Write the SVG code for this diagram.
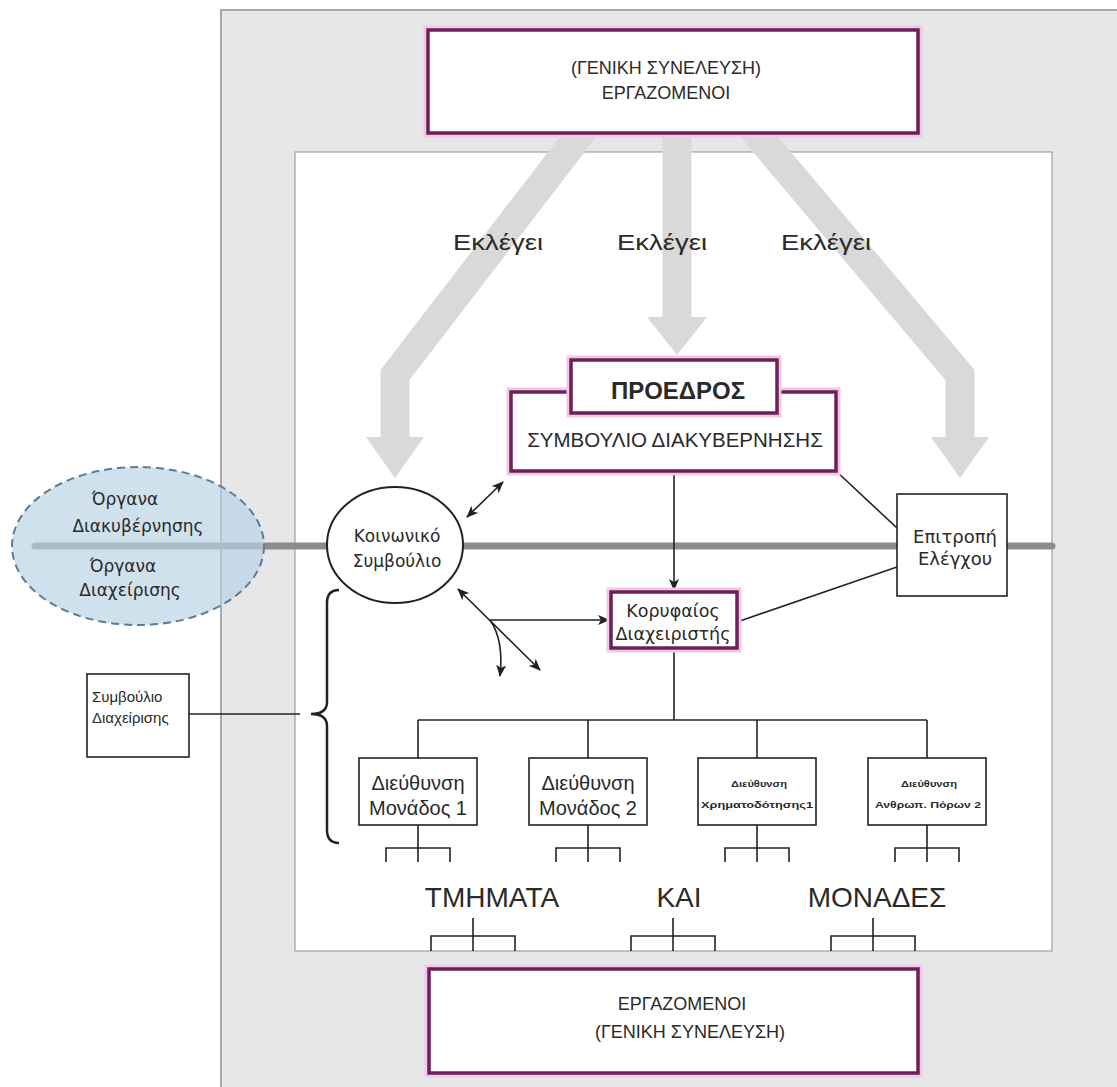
<svg xmlns="http://www.w3.org/2000/svg" width="1117" height="1087" viewBox="0 0 1117 1087">
<style>
.t{font-family:"Liberation Sans",Arial,sans-serif;fill:#2a2a2a;text-anchor:middle}
.g{font-family:"DejaVu Sans",Verdana,sans-serif;fill:#2a2a2a;text-anchor:middle}
.glow{fill:none;stroke:#f3c8e7;stroke-width:9}
.pur{fill:#fff;stroke:#6b2158;stroke-width:3.5}
.blk{fill:#fff;stroke:#222;stroke-width:1.6}
.ln{fill:none;stroke:#222;stroke-width:1.6}
.big{fill:none;stroke:#d9d9d9;stroke-width:29;stroke-linejoin:miter}
.head{fill:#d9d9d9}
</style>
<defs>
<marker id="ah" viewBox="0 0 12 10" refX="11" refY="5" markerWidth="12" markerHeight="10" markerUnits="userSpaceOnUse" orient="auto-start-reverse">
<path d="M0,0 L12,5 L0,10 L3,5 Z" fill="#222"/>
</marker>
</defs>
<rect width="1117" height="1087" fill="#fff"/>
<g id="panel">
<rect x="221" y="10" width="910" height="1090" fill="#e7e7e9" stroke="#a8a8a8" stroke-width="2"/>
<rect x="295" y="152" width="757" height="799" fill="#fff" stroke="#a0a0a0" stroke-width="1.2"/>
</g>
<g id="elect-arrows">
<polyline class="big" points="591,120 395,375 395,440"/>
<polygon class="head" points="366,437 424,437 395,478"/>
<polyline class="big" points="677,120 677,320"/>
<polygon class="head" points="647,317 707,317 677,355"/>
<polyline class="big" points="745,120 960,375 960,440"/>
<polygon class="head" points="931,437 989,437 960,478"/>
<text class="t" x="498" y="250" font-size="22" textLength="90" lengthAdjust="spacingAndGlyphs">Εκλέγει</text>
<text class="t" x="662" y="250" font-size="22" textLength="90" lengthAdjust="spacingAndGlyphs">Εκλέγει</text>
<text class="t" x="826" y="250" font-size="22" textLength="90" lengthAdjust="spacingAndGlyphs">Εκλέγει</text>
</g>
<g id="divider">
<line x1="35" y1="546" x2="1052" y2="546" stroke="#8c8c8c" stroke-width="7" stroke-linecap="round"/>
</g>
<g id="top-assembly">
<rect class="glow" x="428" y="30" width="490" height="103"/>
<rect class="pur" x="428" y="30" width="490" height="103" stroke-width="4"/>
<text class="t" x="666" y="74" font-size="18">(ΓΕΝΙΚΗ ΣΥΝΕΛΕΥΣΗ)</text>
<text class="t" x="666" y="99" font-size="18">ΕΡΓΑΖΟΜΕΝΟΙ</text>
</g>
<g id="bottom-assembly">
<rect class="glow" x="429" y="969" width="489" height="104"/>
<rect class="pur" x="429" y="969" width="489" height="104" stroke-width="4"/>
<text class="t" x="682" y="1010" font-size="18">ΕΡΓΑΖΟΜΕΝΟΙ</text>
<text class="t" x="690" y="1038" font-size="18">(ΓΕΝΙΚΗ ΣΥΝΕΛΕΥΣΗ)</text>
</g>
<g id="ellipse-legend">
<ellipse cx="138" cy="546" rx="126" ry="79" fill="#b8d3e4" fill-opacity="0.68" stroke="#5d7c96" stroke-width="2" stroke-dasharray="8,5"/>
<text class="g" x="125" y="505" font-size="17">Όργανα</text>
<text class="g" x="138" y="532" font-size="17">Διακυβέρνησης</text>
<text class="g" x="123" y="572" font-size="17">Όργανα</text>
<text class="g" x="130" y="596" font-size="17">Διαχείρισης</text>
</g>
<g id="connectors">
<line class="ln" x1="674" y1="471" x2="674" y2="590" marker-end="url(#ah)"/>
<line class="ln" x1="467" y1="517" x2="503" y2="482" marker-start="url(#ah)" marker-end="url(#ah)"/>
<line class="ln" x1="458" y1="589" x2="540" y2="670" marker-start="url(#ah)" marker-end="url(#ah)"/>
<line class="ln" x1="490" y1="620" x2="609" y2="620" marker-end="url(#ah)"/>
<path class="ln" d="M490,620 Q504,640 500,676" marker-end="url(#ah)"/>
<line class="ln" x1="836" y1="471" x2="897" y2="528"/>
<line class="ln" x1="737" y1="622" x2="897" y2="567"/>
<polyline class="ln" points="674,648 674,720"/>
<line class="ln" x1="418" y1="720" x2="927" y2="720"/>
<line class="ln" x1="418" y1="720" x2="418" y2="758"/>
<line class="ln" x1="588" y1="720" x2="588" y2="758"/>
<line class="ln" x1="757" y1="720" x2="757" y2="758"/>
<line class="ln" x1="927" y1="720" x2="927" y2="758"/>
<path class="ln" d="M418,825 V862 M386,862 V848 H450 V862"/>
<path class="ln" d="M588,825 V862 M556,862 V848 H620 V862"/>
<path class="ln" d="M757,825 V862 M725,862 V848 H789 V862"/>
<path class="ln" d="M927,825 V862 M895,862 V848 H959 V862"/>
<path class="ln" d="M473,918 V951 M431,951 V936 H515 V951"/>
<path class="ln" d="M673,918 V951 M631,951 V936 H715 V951"/>
<path class="ln" d="M873,918 V951 M831,951 V936 H915 V951"/>
<line class="ln" x1="189" y1="714" x2="300" y2="714"/>
<path d="M339,590 Q327,590 327,603 L327,702 Q327,714 311,714 Q327,714 327,726 L327,830 Q327,843 339,843" fill="none" stroke="#222" stroke-width="2.5"/>
</g>
<g id="symvoulio-diakyvernisis">
<rect class="glow" x="511" y="392" width="325" height="79"/>
<rect class="pur" x="511" y="392" width="325" height="79"/>
<text class="t" x="675" y="447" font-size="20.5">ΣΥΜΒΟΥΛΙΟ ΔΙΑΚΥΒΕΡΝΗΣΗΣ</text>
</g>
<g id="proedros">
<rect class="glow" x="571" y="360" width="206" height="53"/>
<rect class="pur" x="571" y="360" width="206" height="53"/>
<text class="t" x="678" y="399" font-size="23" font-weight="bold" textLength="134" lengthAdjust="spacingAndGlyphs">ΠΡΟΕΔΡΟΣ</text>
</g>
<g id="koinoniko">
<ellipse cx="395" cy="545" rx="68" ry="58" fill="#fff" stroke="#222" stroke-width="2"/>
<text class="g" x="397" y="542" font-size="17">Κοινωνικό</text>
<text class="g" x="397" y="567" font-size="17">Συμβούλιο</text>
</g>
<g id="epitropi">
<rect class="blk" x="897" y="494" width="110" height="102"/>
<text class="g" x="955" y="543" font-size="18">Επιτροπή</text>
<text class="g" x="955" y="565" font-size="18">Ελέγχου</text>
</g>
<g id="koryfaios">
<rect class="glow" x="611" y="592" width="126" height="56"/>
<rect class="pur" x="611" y="592" width="126" height="56"/>
<text class="g" x="673" y="617" font-size="17.5">Κορυφαίος</text>
<text class="g" x="673" y="640" font-size="17.5">Διαχειριστής</text>
</g>
<g id="symvoulio-diaxeirisis">
<rect class="blk" x="87" y="674" width="102" height="83"/>
<text class="t" x="92" y="702" font-size="15" style="text-anchor:start">Συμβούλιο</text>
<text class="t" x="92" y="723" font-size="15" style="text-anchor:start">Διαχείρισης</text>
</g>
<g id="dieuth-1">
<rect class="blk" x="359" y="758" width="118" height="67"/>
<text class="t" x="418" y="790" font-size="20">Διεύθυνση</text>
<text class="t" x="418" y="815" font-size="20">Μονάδος 1</text>
</g>
<g id="dieuth-2">
<rect class="blk" x="529" y="758" width="118" height="67"/>
<text class="t" x="588" y="790" font-size="20">Διεύθυνση</text>
<text class="t" x="588" y="815" font-size="20">Μονάδος 2</text>
</g>
<g id="dieuth-3">
<rect class="blk" x="698" y="758" width="118" height="67"/>
<text class="t" x="759" y="787" font-size="9" font-weight="bold" textLength="56" lengthAdjust="spacingAndGlyphs">Διεύθυνση</text>
<text class="t" x="757" y="808" font-size="9" font-weight="bold" textLength="112" lengthAdjust="spacingAndGlyphs">Χρηματοδότησης1</text>
</g>
<g id="dieuth-4">
<rect class="blk" x="868" y="758" width="118" height="67"/>
<text class="t" x="929" y="787" font-size="9" font-weight="bold" textLength="56" lengthAdjust="spacingAndGlyphs">Διεύθυνση</text>
<text class="t" x="928" y="808" font-size="9" font-weight="bold" textLength="106" lengthAdjust="spacingAndGlyphs">Ανθρωπ. Πόρων 2</text>
</g>
<g id="labels">
<text class="t" x="492" y="907" font-size="28">ΤΜΗΜΑΤΑ</text>
<text class="t" x="679" y="907" font-size="28">ΚΑΙ</text>
<text class="t" x="877" y="907" font-size="28">ΜΟΝΑΔΕΣ</text>
</g>
</svg>
